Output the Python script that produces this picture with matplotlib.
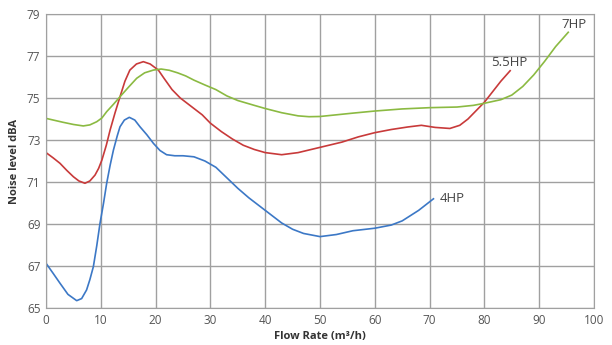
import matplotlib.pyplot as plt

# flow rate (m3/h) and noise (dBA)
x_4hp = [0, 1.3, 2.55, 4, 5.6, 6.5, 7.4, 8, 8.64, 9.25, 9.85, 10.5, 11.07, 11.7,
         12.3, 13, 13.5, 14.3, 15.2, 16.2, 17.15, 18.4, 19.6, 20.8, 22, 23.5, 25,
         27, 29, 31, 33, 35, 37, 39, 41, 43, 45, 47, 50, 53, 56, 60, 63, 65, 68,
         70.7]
y_4hp = [67.13, 66.65, 66.18, 65.65, 65.35, 65.45, 65.86, 66.35, 66.97, 67.95,
         69.03, 70.0, 70.94, 71.8, 72.52, 73.2, 73.63, 73.95, 74.08, 73.95, 73.63,
         73.25, 72.84, 72.5, 72.3, 72.25, 72.25, 72.2, 72.0, 71.7, 71.2, 70.7,
         70.25, 69.85, 69.45, 69.05, 68.75, 68.55, 68.4, 68.5, 68.68, 68.8, 68.95,
         69.15, 69.65, 70.2]

x_55hp = [0, 1.3, 2.55, 3.8, 5, 6, 7.1, 8, 8.94, 9.6, 10.2, 11, 11.7, 12.6, 13.5,
          14.4, 15.3, 16.5, 17.76, 19, 20.5, 21.5, 23, 24.5, 26.5, 28.5, 30, 32,
          34, 36, 38, 40, 43, 46, 50, 54, 57, 60, 63, 66, 68.5, 71, 73.7, 75.5,
          77, 78.5, 80, 81.5, 83, 84.7]
y_55hp = [72.4, 72.15, 71.89, 71.55, 71.25, 71.05, 70.94, 71.05, 71.33, 71.65,
          72.05, 72.75, 73.48, 74.3, 75.06, 75.8, 76.33, 76.62, 76.73, 76.62,
          76.33, 75.95, 75.4, 75.0, 74.6, 74.2, 73.8, 73.4, 73.05, 72.75, 72.55,
          72.4, 72.3, 72.4, 72.65, 72.9, 73.15, 73.35, 73.5, 73.62, 73.7, 73.6,
          73.55, 73.7, 74.0, 74.4, 74.8, 75.3, 75.8, 76.3]

x_7hp = [0, 3, 5, 6.8, 8, 9.25, 10.2, 11.07, 12.3, 13.5, 15, 16.55, 18, 19.6, 21,
         22.5, 24, 25.5, 27, 29, 31, 33, 35, 38, 40, 43, 46, 48, 50, 53, 56, 60,
         65, 70, 75, 78, 80, 83, 85, 87, 89, 91, 93, 95.3]
y_7hp = [74.03, 73.85, 73.74, 73.67, 73.72, 73.87, 74.05, 74.35, 74.7, 75.06,
         75.5, 75.94, 76.2, 76.33, 76.38, 76.32, 76.2, 76.05, 75.85, 75.62, 75.4,
         75.1, 74.88, 74.65, 74.5, 74.3, 74.15, 74.11, 74.12, 74.2, 74.28, 74.38,
         74.48, 74.54, 74.57, 74.65, 74.75, 74.92, 75.14, 75.55, 76.1, 76.75,
         77.45, 78.13]

x_ticks = list(range(0, 101, 10))
y_ticks = list(range(65, 80, 2))

plt.rcParams['font.family'] = ['Open Sans', 'DejaVu Sans']

fig = plt.figure(figsize=(6.12, 3.45), dpi=100)
ax = fig.add_axes([0.0752, 0.1072, 0.8954, 0.8522])

ax.plot(x_4hp, y_4hp, color="#3c78c6", lw=1.2)
ax.plot(x_55hp, y_55hp, color="#c83a3a", lw=1.2)
ax.plot(x_7hp, y_7hp, color="#8bba42", lw=1.2)

# line labels
ax.text(71.8, 70.22, "4HP", fontsize=9.5, color="#444444", va="center", ha="left")
ax.text(81.15, 76.67, "5.5HP", fontsize=9.5, color="#444444", va="center",
        ha="left")
ax.text(94.0, 78.52, "7HP", fontsize=9.5, color="#444444", va="center", ha="left")

ax.set_xlim(0, 100)
ax.set_ylim(65, 79)
ax.set_xticks(x_ticks)
ax.set_yticks(y_ticks)
ax.grid(True, color="#a0a0a0", lw=1)
ax.set_axisbelow(True)
for s in ax.spines.values():
    s.set_color("#a0a0a0")
ax.tick_params(length=0, labelsize=8.5, colors="#555555", pad=4)

ax.set_xlabel("Flow Rate (m³/h)", fontsize=8, fontweight="bold",
              color="#333333", labelpad=3)
ax.set_ylabel("Noise level dBA", fontsize=8, fontweight="bold",
              color="#333333", labelpad=5)

fig.savefig("out.png", dpi=100)
